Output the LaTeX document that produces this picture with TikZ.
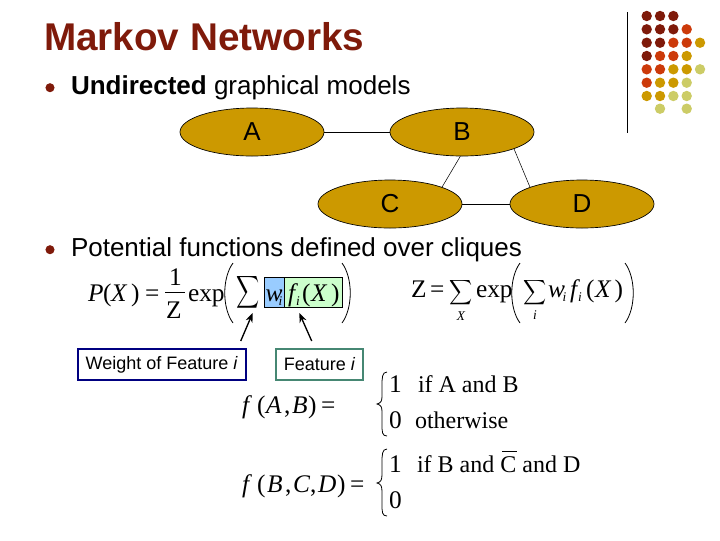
\documentclass[tikz,border=0pt]{standalone}
\usepackage{fontspec}
\setmainfont{Liberation Sans}
\newfontfamily\ser{Liberation Serif}
\definecolor{dk}{HTML}{7F1A0A}
\definecolor{og}{HTML}{CC3A0A}
\definecolor{gd}{HTML}{CC9900}
\definecolor{pl}{HTML}{CCCC66}
\tikzset{
 lbl/.style={inner sep=0pt,outer sep=0pt,anchor=base west},
 mth/.style={lbl,font=\ser\fontsize{19}{19}\selectfont},
 mthi/.style={lbl,font=\ser\itshape\fontsize{19}{19}\selectfont},
 sub/.style={lbl,font=\ser\itshape\fontsize{10}{10}\selectfont},
 mc/.style={lbl,font=\ser\fontsize{18}{18}\selectfont},
 body/.style={lbl,font=\fontsize{19.5}{19.5}\selectfont},
 ell/.style={ellipse,draw=black,line width=0.5pt,fill=gd,minimum width=108pt,minimum height=36pt,inner sep=0pt,font=\fontsize{19.5}{19.5}\selectfont},
 edgeln/.style={draw=black,line width=0.6pt},
 dot/.style={circle,inner sep=0pt,minimum size=7.8pt},
 bul/.style={circle,fill=dk,inner sep=0pt,minimum size=6.8pt},
 sumg/.style={inner sep=0pt,outer sep=0pt},
 paren/.style={draw=black,line width=0.6pt},
 callout/.style={draw,line width=1.3pt,fill=white,inner sep=0pt,font=\fontsize{13.5}{13.5}\selectfont},
 arr/.style={draw=black,line width=1pt,-{Stealth[length=7pt,width=5.5pt]}}
}
\usetikzlibrary{shapes.geometric,arrows.meta}
\begin{document}
\begin{tikzpicture}[x=0.75pt,y=-0.75pt]
\useasboundingbox (0,0) rectangle (720,540);
\fill[white] (0,0) rectangle (720,540);
% title
\node[lbl,font=\bfseries\fontsize{29}{29}\selectfont,text=dk] (title) at (44,50) {Markov Networks};
\node[bul] (b1) at (50,87.7) {};
\node[body] (t1) at (71,94) {\textbf{Undirected} graphical models};
\node[bul] (b2) at (50,249.7) {};
\node[body] (t2) at (71,256) {Potential functions defined over cliques};
% rule + dots
\coordinate (r1) at (627.3,12); \coordinate (r2) at (627.3,133);
\draw[line width=0.75pt] (r1) -- (r2);
\foreach \c [count=\j from 0] in {dk,dk,dk}{\node[dot,fill=\c] (d1\j) at (646.7+13.33*\j,16) {};}
\foreach \c [count=\j from 0] in {dk,dk,dk,og}{\node[dot,fill=\c] (d2\j) at (646.7+13.33*\j,29.3) {};}
\foreach \c [count=\j from 0] in {dk,dk,og,og,gd}{\node[dot,fill=\c] (d3\j) at (646.7+13.33*\j,42.7) {};}
\foreach \c [count=\j from 0] in {dk,og,og,gd}{\node[dot,fill=\c] (d4\j) at (646.7+13.33*\j,56) {};}
\foreach \c [count=\j from 0] in {og,og,gd,gd,pl}{\node[dot,fill=\c] (d5\j) at (646.7+13.33*\j,69.3) {};}
\foreach \c [count=\j from 0] in {og,gd,gd,pl}{\node[dot,fill=\c] (d6\j) at (646.7+13.33*\j,82.7) {};}
\foreach \c [count=\j from 0] in {gd,gd,pl,pl}{\node[dot,fill=\c] (d7\j) at (646.7+13.33*\j,96) {};}
\node[dot,fill=pl] (d81) at (660,108.7) {};
\node[dot,fill=pl] (d83) at (686.7,108.7) {};
% graph
\node[ell] (A) at (252,132) {A};
\node[ell] (B) at (462,132) {B};
\node[ell] (C) at (390,204) {C};
\node[ell] (D) at (582,204) {D};
\draw[edgeln] (A) -- (B);
\draw[edgeln] (C) -- (D);
\draw[edgeln,line width=0.4pt] (B.266) -- (C.18);
\draw[edgeln,line width=0.4pt] (B.342) -- (D.162);
% highlight
\node[draw=black,line width=0.7pt,inner sep=0pt,minimum width=15pt,minimum height=22.5pt,fill={rgb,255:red,153;green,204;blue,255}] (hb) at (274.3,292.3) {};
\node[draw=black,line width=0.7pt,inner sep=0pt,minimum width=43.8pt,minimum height=22.5pt,fill={rgb,255:red,204;green,255;blue,204}] (hg) at (313.5,292.3) {};
% P(X)
\node[mthi] (px1) at (88,301) {P};
\node[mth] (px2) at (103,301) {(};
\node[mthi] (px3) at (111,301) {X};
\node[mth] (px4) at (131,301) {)};
\node[mth] (px5) at (145,301) {=};
\node[mth] (one) at (169,285) {1};
\coordinate (fr1) at (165,292.7); \coordinate (fr2) at (185,292.7);
\draw[line width=0.6pt] (fr1) -- (fr2);
\node[mth] (zz) at (166,318) {Z};
\node[mth] (ex1) at (188,301) {exp};
\draw[paren] (233,263) .. controls (222,278) and (222,308) .. (233,323);
\node[sumg,xscale=1.2,yscale=1.7] (s1) at (248.5,292.5) {$\displaystyle\sum$};
\node[mthi] (w1) at (265.5,301) {w};
\node[sub] (w1s) at (278.5,305) {i};
\node[mthi] (f1) at (288,301) {f};
\node[sub] (f1s) at (296,305) {i};
\node[mth] (f1a) at (302,301) {(};
\node[mthi] (f1b) at (311,301) {X};
\node[mth] (f1c) at (331,301) {)};
\draw[paren] (342,263) .. controls (353,278) and (353,308) .. (342,323);
% Z
\node[mth] (z0) at (411,297) {Z};
\node[mth] (z1) at (430,297) {=};
\node[sumg,xscale=1.2,yscale=1.3] (s2) at (461.5,293) {$\displaystyle\sum$};
\node[sub,anchor=base] (s2x) at (461,320) {X};
\node[mth] (z2) at (476,297) {exp};
\draw[paren] (520,263) .. controls (509,278) and (509,308) .. (520,323);
\node[sumg,xscale=1.2,yscale=1.3] (s3) at (535,293) {$\displaystyle\sum$};
\node[sub,anchor=base] (s3i) at (535,319) {i};
\node[mthi] (z3) at (548,297) {w};
\node[sub] (z3s) at (562.5,301) {i};
\node[mthi] (z4) at (570,297) {f};
\node[sub] (z4s) at (578,301) {i};
\node[mth] (z5) at (586,297) {(};
\node[mthi] (z6) at (595,297) {X};
\node[mth] (z7) at (614.5,297) {)};
\draw[paren] (625,263) .. controls (636,278) and (636,308) .. (625,323);
% callouts
\node[callout,draw={rgb,255:red,0;green,0;blue,128},minimum width=126pt,minimum height=23pt] (wb) at (161.8,364.5) {Weight of Feature \textit{i}};
\node[callout,draw={rgb,255:red,70;green,135;blue,115},minimum width=65.5pt,minimum height=23pt] (fb) at (319.6,364.5) {Feature \textit{i}};
\coordinate (a1s) at (240.7,341); \coordinate (a1e) at (252.7,313);
\coordinate (a2s) at (311.7,341); \coordinate (a2e) at (299.3,313);
\draw[arr] (a1s) -- (a1e);
\draw[arr] (a2s) -- (a2e);
% f(A,B)
\node[mthi] (g1) at (242,413) {f};
\node[mth] (g2) at (257,413) {(};
\node[mthi] (g3) at (266,413) {A};
\node[mth] (g4) at (284,413) {,};
\node[mthi] (g5) at (292,413) {B};
\node[mth] (g6) at (308,413) {)};
\node[mth] (g7) at (321,413) {=};
\draw[paren] (387,372) .. controls (382,372) and (382,378) .. (382,386) -- (382,396) .. controls (382,401) and (381,403) .. (377,404) .. controls (381,405) and (382,407) .. (382,412) -- (382,424) .. controls (382,432) and (382,436) .. (387,436);
\node[mth] (h1) at (389,392) {1};
\node[mc] (h2) at (418,392) {if A and B};
\node[mth] (h3) at (389,428) {0};
\node[mc] (h4) at (415,428) {otherwise};
% f(B,C,D)
\node[mthi] (k1) at (242,492) {f};
\node[mth] (k2) at (257,492) {(};
\node[mthi] (k3) at (267,492) {B};
\node[mth] (k4) at (285,492) {,};
\node[mthi] (k5) at (293,492) {C};
\node[mth] (k6) at (310,492) {,};
\node[mthi] (k7) at (318,492) {D};
\node[mth] (k8) at (337,492) {)};
\node[mth] (k9) at (350,492) {=};
\draw[paren] (387,449) .. controls (382,449) and (382,455) .. (382,463) -- (382,474) .. controls (382,480) and (381,482) .. (377,483) .. controls (381,484) and (382,486) .. (382,492) -- (382,504) .. controls (382,512) and (382,516) .. (387,516);
\node[mth] (m1) at (389,472) {1};
\node[mc] (m2) at (417,472) {if B and C and D};
\coordinate (ov1) at (502,451); \coordinate (ov2) at (517,451);
\draw[line width=0.6pt] (ov1) -- (ov2);
\node[mth] (m3) at (389,508) {0};
\end{tikzpicture}
\end{document}
